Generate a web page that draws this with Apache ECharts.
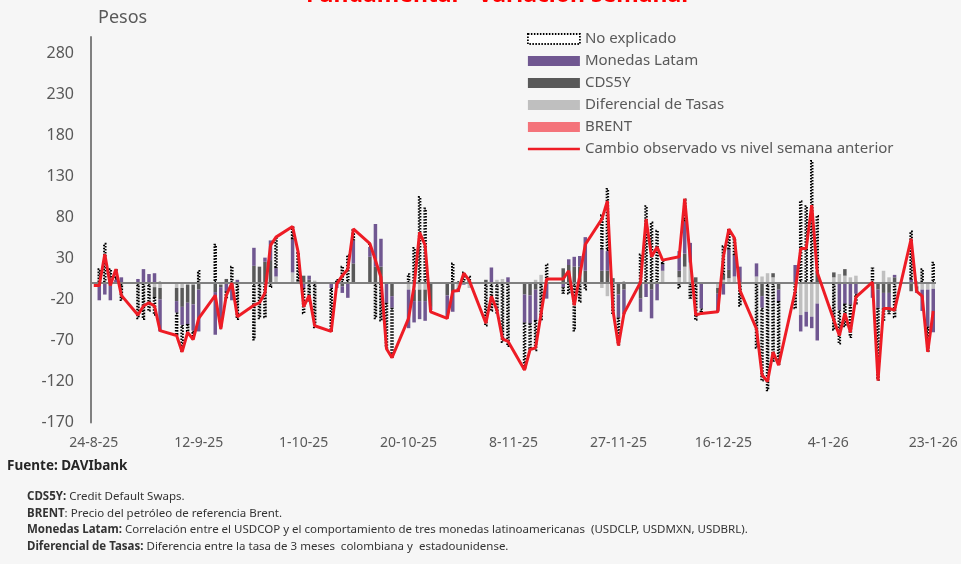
<!DOCTYPE html>
<html>
<head>
<meta charset="utf-8">
<script src="https://cdn.jsdelivr.net/npm/echarts@6/dist/echarts.min.js"></script>
<style>
html,body{margin:0;padding:0;background:#f6f6f6;}
#chart{width:961px;height:564px;}
</style>
</head>
<body>
<div id="chart"></div>
<script>
// Daily category axis from 24-8-25 to 23-1-26 (weekly rows: Sun, Mon..Fri, Sat)
const startDate = Date.UTC(2025, 7, 24);
const categories = [];
for (let i = 0; i < 153; i++) {
  const dt = new Date(startDate + i * 86400000);
  categories.push(dt.getUTCDate() + '-' + (dt.getUTCMonth() + 1) + '-' + String(dt.getUTCFullYear()).slice(2));
}
const yTicks = [-170, -120, -70, -20, 30, 80, 130, 180, 230, 280];

const brent = [].concat(
  [null,0,0,0,0,0,null],[null,0,0,0,0,0,null],[null,0,0,0,0,0,null],[null,0,0,0,0,0,null],
  [null,0,0,0,0,0,null],[null,0,0,0,0,0,null],[null,0,0,0,0,0,null],[null,0,0,0,0,0,null],
  [null,0,0,0,0,0,null],[null,0,0,0,0,0,null],[null,0,0,0,0,0,null],[null,0,0,0,0,0,null],
  [null,0,0,0,0,0,null],[null,0,0,0,0,0,null],[null,0,0,0,0,0,null],[null,0,0,0,0,0,null],
  [null,0,0,0,0,0,null],[null,0,0,0,0,0,null],[null,0,0,0,0,0,null],[null,0,0,0,0,0,null],
  [null,0,0,0,0,0,null],[null,0,0,0,0,0]
);
const diferencial = [].concat(
  [null,0,0,0,0,0,null],[null,0,0,0,-5,-6,null],[null,-6,-6,-2,-2,0,null],[null,0,-2,0,0,0,null],
  [null,0,0,0,0,8,null],[null,13,2,0,0,3,null],[null,-1,0,0,0,0,null],[null,0,0,0,0,0,null],
  [null,-8,-8,-8,-8,0,null],[null,0,0,-6,0,-6,null],[null,0,0,4,5,0,null],[null,0,0,4,10,0,null],
  [null,0,0,0,0,0,null],[null,-6,-16,0,0,0,null],[null,0,0,0,0,15,null],[null,7,20,25,0,0,null],
  [null,-6,4,6,8,0,null],[null,8,8,12,7,0,null],[null,0,-39,-35,-41,-25,null],[null,7,11,9,7,9,null],
  [null,0,0,15,7,0,null],[null,0,-4,-8,-8,-7]
);
const cds5y = [].concat(
  [null,0,0,0,0,0,null],[null,0,0,0,-12,-14,null],[null,-16,-23,-22,-24,-8,null],[null,-11,-3,5,0,0,null],
  [null,21,20,26,28,0,null],[null,0,0,9,4,0,null],[null,0,0,-4,0,24,null],[null,32,20,20,0,-16,null],
  [null,0,-14,-14,-14,-29,null],[null,-15,-11,0,0,0,null],[null,4,0,0,0,0,null],[null,-14,-15,-8,0,0,null],
  [null,18,22,20,20,15,null],[null,15,15,6,-14,-8,null],[null,-19,0,-8,0,0,null],[null,8,16,0,7,0,null],
  [null,-7,6,10,0,0,null],[null,0,-16,0,5,-8,null],[null,0,0,0,0,15,null],[null,6,0,8,0,0,null],
  [null,-6,-8,-12,-12,7,null],[null,-10,-6,0,0,0]
);
const monedas = [].concat(
  [null,-21,-14,-21,4,7,null],[null,5,17,11,12,-39,null],[null,-14,-22,-26,-32,-51,null],[null,-52,-49,-10,-21,4,null],
  [null,22,0,5,24,10,null],[null,40,0,-6,5,0,null],[null,-5,-6,-8,-18,28,null],[null,12,52,34,-24,-14,null],
  [null,-47,-26,-22,-24,-4,null],[null,-27,-24,-5,-2,0,null],[null,0,19,0,0,7,null],[null,-34,-34,-37,0,-19,null],
  [null,-5,7,12,13,41,null],[null,26,24,0,-28,-30,null],[null,-16,-17,-35,-21,8,null],[null,24,39,24,0,-31,null],
  [null,-21,-14,25,26,20,null],[null,16,-14,0,0,-14,null],[null,22,-20,-18,-14,-45,null],[null,0,-33,-25,-26,-13,null],
  [null,-12,-22,-18,-18,3,null],[null,4,-2,-26,-45,-53]
);
const noExplicado = [].concat(
  [null,18,49,18,13,-22,null],[null,-44,-45,-35,-23,1,null],[null,-28,-33,-10,-11,16,null],[null,48,-2,-10,21,-45,null],
  [null,-70,-44,-43,-6,38,null],[null,16,36,-32,-24,-55,null],[null,-53,5,21,35,14,null],[null,4,-44,-47,-56,-61,null],
  [null,12,44,106,92,-2,null],[null,-1,25,2,14,9,null],[null,-53,-35,-37,-73,-78,null],[null,-58,-32,-38,-47,24,null],
  [null,-8,-14,-59,-24,-9,null],[null,43,77,-39,-34,1,null],[null,36,95,75,65,5,null],[null,-7,28,-19,-46,-6,null],
  [null,-1,36,25,21,-29,null],[null,-80,-90,-132,-96,-78,null],[null,-32,101,95,150,68,null],[null,-58,-42,-29,-41,-13,null],
  [null,19,-89,-16,-8,-43,null],[null,60,2,18,-31,26]
);
const cambioObservado = [].concat(
  [-3,-3,35,-3,17,-15,null],[null,-39,-28,-24,-28,-58,null],[null,-64,-84,-60,-69,-43,null],[null,-15,-56,-15,0,-41,null],
  [null,-27,-24,-12,46,56,null],[null,69,38,-29,-15,-52,null],[null,-59,-1,9,17,66,null],[null,48,28,7,-80,-91,null],
  [null,-43,-4,62,46,-35,null],[null,-43,-10,-9,12,3,null],[null,-49,-16,-33,-68,-71,null],[null,-106,-81,-79,-37,5,null],
  [null,5,15,-27,9,47,null],[null,78,100,-33,-76,-37,null],[null,1,78,32,44,28,null],[null,32,103,30,-39,-37,null],
  [null,-35,32,66,55,-9,null],[null,-56,-112,-120,-84,-100,null],[null,-10,42,42,95,13,null],[null,-45,-64,-37,-60,-17,null],
  [null,1,-119,-31,-31,-33,null],[null,54,-10,-16,-84,-34]
);

const FONT = 'Noto Sans';
const TXT = '#595959';
const RED = '#ee1c25';
const chart = echarts.init(document.getElementById('chart'), null, {renderer: 'canvas'});
const barW = 3.5;
const richB = {b: {fontWeight: 'bold', fontSize: 11.5, fontFamily: FONT, fill: '#333'}};
const option = {
  backgroundColor: '#f6f6f6',
  animation: false,
  textStyle: {fontFamily: FONT},
  grid: {left: 91, right: 25, top: 37, bottom: 141.5},
  legend: {
    orient: 'vertical', left: 522, top: 25,
    itemWidth: 52, itemHeight: 10, itemGap: 4,
    textStyle: {fontFamily: FONT, fontSize: 15, color: TXT, lineHeight: 18},
    data: [
      {name: 'No explicado', icon: 'rect', itemStyle: {color: '#ffffff', borderColor: '#000', borderType: [1.5, 1.5], borderWidth: 1.8}},
      {name: 'Monedas Latam', icon: 'rect'},
      {name: 'CDS5Y', icon: 'rect'},
      {name: 'Diferencial de Tasas', icon: 'rect'},
      {name: 'BRENT', icon: 'rect'},
      {name: 'Cambio observado vs nivel semana anterior',
        icon: 'path://M0,0 L0,0 M0,3.7 L52,3.7 L52,6.3 L0,6.3 Z M52,10 L52,10',
        itemStyle: {color: RED, borderWidth: 0}}
    ]
  },
  xAxis: {
    type: 'category', data: categories, boundaryGap: true,
    axisLine: {show: false, onZero: false},
    axisTick: {show: false},
    axisLabel: {interval: 18, fontSize: 14, color: TXT, margin: 14, fontFamily: FONT}
  },
  yAxis: {
    type: 'value', min: -170, max: 300, interval: 50,
    axisLine: {show: true, lineStyle: {color: '#808080', width: 2}},
    axisTick: {show: false},
    splitLine: {show: false},
    axisLabel: {fontSize: 16, color: TXT, margin: 17, fontFamily: FONT,
      formatter: v => (yTicks.indexOf(v) >= 0 ? String(v) : '')}
  },
  series: [
    {name: 'BRENT', type: 'bar', stack: 'f', barWidth: barW, data: brent, itemStyle: {color: '#f4737a'}},
    {name: 'Diferencial de Tasas', type: 'bar', stack: 'f', barWidth: barW, data: diferencial, itemStyle: {color: '#bfbfbf'}},
    {name: 'CDS5Y', type: 'bar', stack: 'f', barWidth: barW, data: cds5y, itemStyle: {color: '#595959'}},
    {name: 'Monedas Latam', type: 'bar', stack: 'f', barWidth: barW, data: monedas, itemStyle: {color: '#705791'}},
    {name: 'No explicado', type: 'bar', stack: 'f', barWidth: barW, data: noExplicado, z: 2,
      itemStyle: {color: '#ffffff', borderColor: '#000000', borderType: [1.6, 1.4], borderWidth: 2},
      markLine: {silent: true, symbol: ['none', 'none'], label: {show: false},
        lineStyle: {color: '#808080', width: 2, type: 'solid'}, data: [{yAxis: 0}]}},
    {name: 'Cambio observado vs nivel semana anterior', type: 'line', data: cambioObservado, z: 5,
      connectNulls: true, symbol: 'none', lineStyle: {color: RED, width: 3}, itemStyle: {color: RED}}
  ],
  graphic: [
    {type: 'text', x: 497, y: 7, style: {text: 'Fundamental - Variación semanal', fill: '#ff0000',
      font: 'bold 23px "Noto Sans"', align: 'center', verticalAlign: 'bottom'}},
    {type: 'text', x: 98, y: 18, style: {text: 'Pesos', fill: TXT, font: '18px "Noto Sans"', verticalAlign: 'middle'}},
    {type: 'text', x: 7, y: 466, style: {text: 'Fuente: DAVIbank', fill: '#262626', font: 'bold 13.5px "Noto Sans"', verticalAlign: 'middle'}},
    {type: 'text', x: 27, y: 497, style: {text: '{b|CDS5Y:} Credit Default Swaps.', fill: '#333', font: '11.5px "Noto Sans"', verticalAlign: 'middle', rich: richB}},
    {type: 'text', x: 27, y: 514, style: {text: '{b|BRENT}: Precio del petróleo de referencia Brent.', fill: '#333', font: '11.5px "Noto Sans"', verticalAlign: 'middle', rich: richB}},
    {type: 'text', x: 27, y: 530, style: {text: '{b|Monedas Latam:} Correlación entre el USDCOP y el comportamiento de tres monedas latinoamericanas  (USDCLP, USDMXN, USDBRL).', fill: '#333', font: '11.5px "Noto Sans"', verticalAlign: 'middle', rich: richB}},
    {type: 'text', x: 27, y: 547, style: {text: '{b|Diferencial de Tasas:} Diferencia entre la tasa de 3 meses  colombiana y  estadounidense.', fill: '#333', font: '11.5px "Noto Sans"', verticalAlign: 'middle', rich: richB}}
  ]
};
chart.setOption(option);
</script>
</body>
</html>
